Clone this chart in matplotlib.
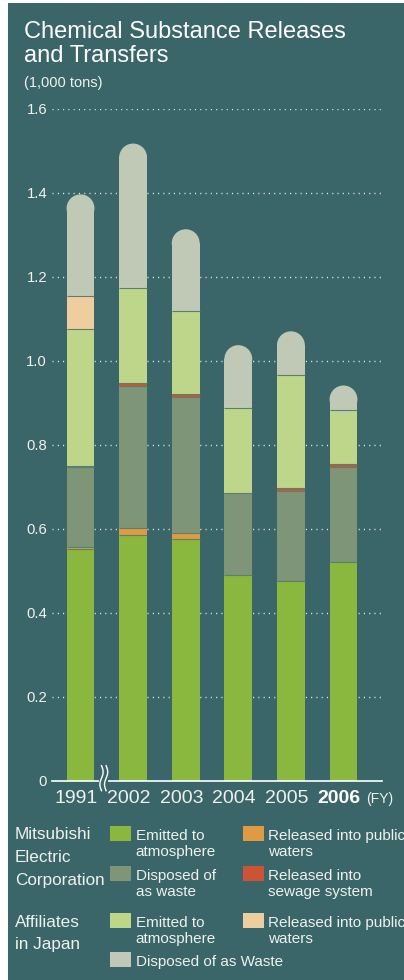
import numpy as np
import matplotlib
matplotlib.use('Agg')
import matplotlib.pyplot as plt
from matplotlib.patches import Rectangle, Ellipse
import matplotlib.transforms as mtransforms

plt.rcParams['font.family'] = ['Liberation Sans', 'DejaVu Sans']

# ---------------- data (1,000 tons) ----------------
years = ['1991', '2002', '2003', '2004', '2005', '2006']
mec_air = [0.551, 0.584, 0.575, 0.490, 0.476, 0.521]
mec_water = [0.005, 0.018, 0.015, 0.0, 0.0, 0.0]
mec_waste = [0.190, 0.338, 0.324, 0.196, 0.214, 0.225]
mec_sewage = [0.004, 0.007, 0.007, 0.0, 0.008, 0.008]
aff_air = [0.325, 0.227, 0.198, 0.201, 0.268, 0.129]
aff_water = [0.080, 0.0, 0.0, 0.0, 0.0, 0.0]
aff_waste = [0.241, 0.343, 0.194, 0.150, 0.104, 0.058]
yticks = [0, 0.2, 0.4, 0.6, 0.8, 1.0, 1.2, 1.4, 1.6]
ytick_labels = ['0', '0.2', '0.4', '0.6', '0.8', '1.0', '1.2', '1.4', '1.6']

# ---------------- style ----------------
BG = '#3b6669'
TXT = '#eef1ec'
SEP = '#5a7f6c'
C_MEC_AIR = '#8ab83f'
C_MEC_WATER = '#e09a42'
C_MEC_WASTE = '#7e9677'
C_MEC_SEWAGE = '#cc5434'
C_AFF_AIR = '#bdd68a'
C_AFF_WATER = '#eecd9e'
C_AFF_WASTE = '#c0c9b5'

series = [
    (mec_air, C_MEC_AIR),
    (mec_water, C_MEC_WATER),
    (mec_waste, C_MEC_WASTE),
    (mec_sewage, C_MEC_SEWAGE),
    (aff_air, C_AFF_AIR),
    (aff_water, C_AFF_WATER),
    (aff_waste, C_AFF_WASTE),
]

W, H = 404, 980
fig = plt.figure(figsize=(W / 100, H / 100), dpi=100)
fig.patch.set_facecolor('white')


def fx(px):
    return px / W


def fy(py):
    return 1 - py / H


fig.patches.append(Rectangle((fx(8), 0), 1 - fx(8), fy(3), transform=fig.transFigure,
                             facecolor=BG, edgecolor='none', zorder=-5))

ax = fig.add_axes([fx(52), fy(780.7), 330 / W, 672 / H])
ax.set_zorder(1)
ax.set_facecolor('none')
ax.set_xlim(-0.542, 5.732)
ax.set_ylim(0, 1.6)
for s in ['top', 'right', 'left']:
    ax.spines[s].set_visible(False)
ax.spines['bottom'].set_color('white')
ax.spines['bottom'].set_linewidth(1.2)
ax.spines['bottom'].set_zorder(6)
ax.set_xticks([])
ax.set_yticks([])

# dotted gridlines
for yv in yticks[1:]:
    ax.axhline(yv, color='#e4eae4', lw=1.0, linestyle=(0, (0.8, 3.0)),
               dash_capstyle='butt', zorder=1)

# y tick labels
ylab_tr = mtransforms.offset_copy(
    mtransforms.blended_transform_factory(ax.transAxes, ax.transData),
    fig=fig, x=-3.6, y=-3.8, units='points')
for yv, lab in zip(yticks, ytick_labels):
    ax.text(0, yv, lab, transform=ylab_tr, ha='right', va='baseline',
            fontsize=10.7, color=TXT, clip_on=False)

# stacked bars
x = np.arange(len(years))
bar_w = 0.53
bottom = np.zeros(len(years))
last = None
for i, (vals, col) in enumerate(series):
    vals = np.array(vals, dtype=float)
    rects = ax.bar(x, vals, bar_w, bottom=bottom, color=col, edgecolor='none',
                   linewidth=0, zorder=3)
    for r, v in zip(rects, vals):
        if v <= 0:
            r.set_visible(False)
    bottom += vals
    last = rects
    # thin separator at the top of each segment (not on the rounded top)
    if i < len(series) - 1:
        for xi, v, b in zip(x, vals, bottom):
            if v > 0:
                ax.plot([xi - bar_w / 2, xi + bar_w / 2], [b, b], color=SEP,
                        lw=0.8, solid_capstyle='butt', zorder=4)

# rounded tops
p0 = ax.transData.transform((0, 0))
p1 = ax.transData.transform((bar_w, 1))
sx = p1[0] - p0[0]
sy = p1[1] - p0[1]
r_y = (sx / 2) / sy
for r in last:
    xx, yy, ww, hh = r.get_x(), r.get_y(), r.get_width(), r.get_height()
    r.set_height(hh - r_y)
    ax.add_patch(Ellipse((xx + ww / 2, yy + hh - r_y), ww, 2 * r_y,
                         facecolor=r.get_facecolor(), edgecolor='none', zorder=3))

# axis break between first and second category
cx_disp, cy_disp = ax.transData.transform(((x[0] + x[1]) / 2, 0))
cx_disp -= 3
inv = ax.transData.inverted()
gap = np.array([[cx_disp - 4.5, cy_disp - 2], [cx_disp + 4.5, cy_disp + 2]])
g = inv.transform(gap)
ax.add_patch(Rectangle((g[0, 0], g[0, 1]), g[1, 0] - g[0, 0], g[1, 1] - g[0, 1],
                       facecolor=BG, edgecolor='none', zorder=7, clip_on=False))
t = np.linspace(0, 1, 60)
for off in (-2.3, 2.3):
    xs = cx_disp + off + 1.6 * np.sin(2 * np.pi * t)
    ys = cy_disp + 15 - 25 * t
    pts = inv.transform(np.column_stack([xs, ys]))
    ax.plot(pts[:, 0], pts[:, 1], color='white', lw=1.0, zorder=8, clip_on=False)

# x labels
xlab_tr = mtransforms.offset_copy(
    mtransforms.blended_transform_factory(ax.transData, fig.transFigure),
    fig=fig, x=-3.0, y=0, units='points')
for xi, yr in zip(x, years):
    ax.text(xi, fy(803.3), yr, transform=xlab_tr, ha='center', va='baseline',
            fontsize=14, color=TXT if yr != years[-1] else 'white',
            fontweight='bold' if yr == years[-1] else 'normal', clip_on=False)
fig.text(fx(366), fy(803.3), '(FY)', fontsize=10, color=TXT, va='baseline', ha='left')

# titles
fig.text(fx(24), fy(38.5), 'Chemical Substance Releases', fontsize=17, color='white', va='baseline')
fig.text(fx(24), fy(61.5), 'and Transfers', fontsize=17, color='white', va='baseline')
fig.text(fx(24), fy(86.5), '(1,000 tons)', fontsize=10.5, color=TXT, va='baseline')

# legend
group_labels = [
    (['Mitsubishi', 'Electric', 'Corporation'], [839.3, 861.7, 884.5]),
    (['Affiliates', 'in Japan'], [926.7, 949.0]),
]
for lines, bases in group_labels:
    for ln, b in zip(lines, bases):
        fig.text(fx(15), fy(b), ln, fontsize=12.3, color=TXT, va='baseline')

legend_items = [
    (C_MEC_AIR, 110, 826, ['Emitted to', 'atmosphere'], [840, 856]),
    (C_MEC_WATER, 243, 826, ['Released into public', 'waters'], [840, 856]),
    (C_MEC_WASTE, 110, 866, ['Disposed of', 'as waste'], [880.3, 896]),
    (C_MEC_SEWAGE, 243, 866, ['Released into', 'sewage system'], [880.3, 896]),
    (C_AFF_AIR, 110, 913, ['Emitted to', 'atmosphere'], [927.3, 943]),
    (C_AFF_WATER, 243, 913, ['Released into public', 'waters'], [927.3, 943]),
    (C_AFF_WASTE, 110, 952, ['Disposed of as Waste'], [965.7]),
]
for col, sxp, syp, lines, bases in legend_items:
    fig.patches.append(Rectangle((fx(sxp), fy(syp + 15)), 20.5 / W, 15 / H,
                                 transform=fig.transFigure, facecolor=col,
                                 edgecolor='none', zorder=2))
    for ln, b in zip(lines, bases):
        fig.text(fx(sxp + 25.5), fy(b), ln, fontsize=11, color=TXT, va='baseline')

fig.savefig('out.png', dpi=100, facecolor='white')
